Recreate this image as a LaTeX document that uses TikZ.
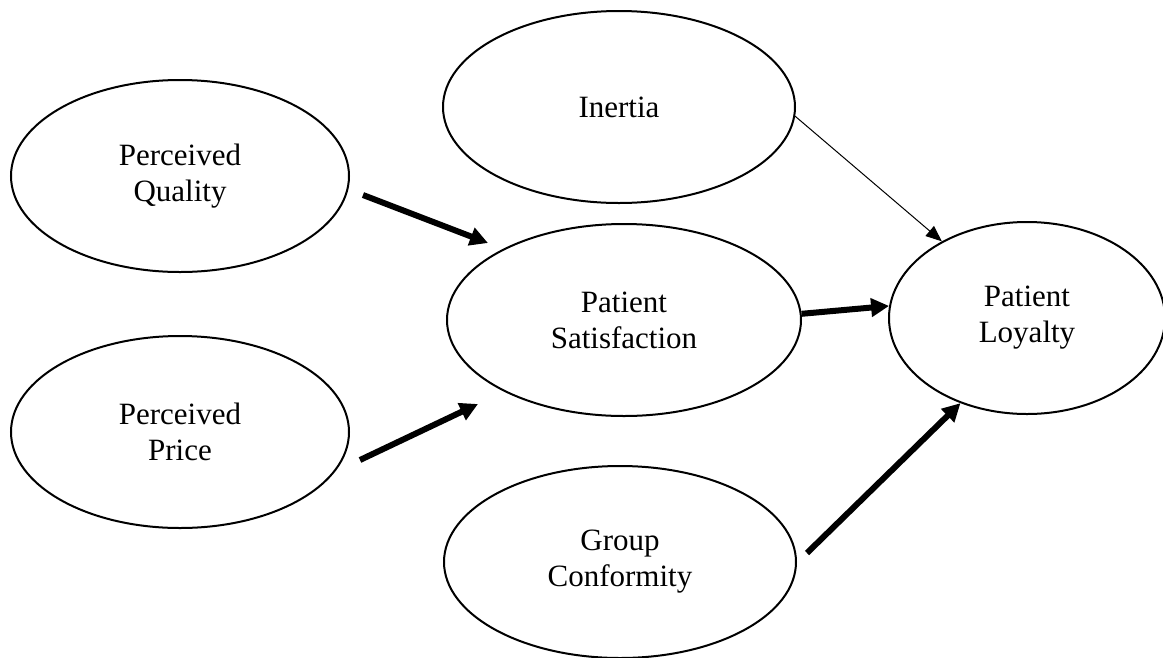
\documentclass[tikz,border=0pt]{standalone}
\usepackage{fontspec}
\setmainfont{Liberation Serif}
\usetikzlibrary{shapes.geometric,arrows.meta}

\begin{document}
\begin{tikzpicture}[x=1pt,y=-1pt,
construct/.style = {ellipse, draw=black, line width=2pt, inner sep=0pt, align=center,
  minimum width=#1, minimum height=192pt, font=\fontsize{31}{36}\selectfont},
construct/.default=352pt,
relation/.style = {line width=6pt, -{Triangle[length=18pt,width=18pt]}},
weak relation/.style = {line width=1pt, -{Triangle[length=16pt,width=13pt]}}]
\useasboundingbox (0,0) rectangle (1163,657);

    \node[construct=338pt] (PQ) at (180,176) {Perceived\\Quality};
    \node[construct=338pt] (PP) at (180,432) {Perceived\\Price};
    \node[construct] (IN) at (619,107) {Inertia};
    \node[construct=354pt] (PS) at (624,320) {Patient\\Satisfaction};
    \node[construct] (GC) at (620,562) {Group\\Conformity};
    \node[construct=276pt] (PL) at (1027,318) {Patient\\Loyalty};

    % free ends of the arrows
    \coordinate (PQtail) at (363,195);
    \coordinate (PQtip) at (488,243);
    \coordinate (PPtail) at (360,460);
    \coordinate (PPtip) at (478,404);
    \coordinate (GCtail) at (807,553);

    \draw[relation] (PQtail) -- (PQtip);
    \draw[relation] (PPtail) -- (PPtip);
    \draw[relation] (PS.2) -- (PL.175);
    \draw[weak relation] (IN.-3) -- (PL.138);
    \draw[relation] (GCtail) -- (PL.-128);

\end{tikzpicture}
\end{document}
